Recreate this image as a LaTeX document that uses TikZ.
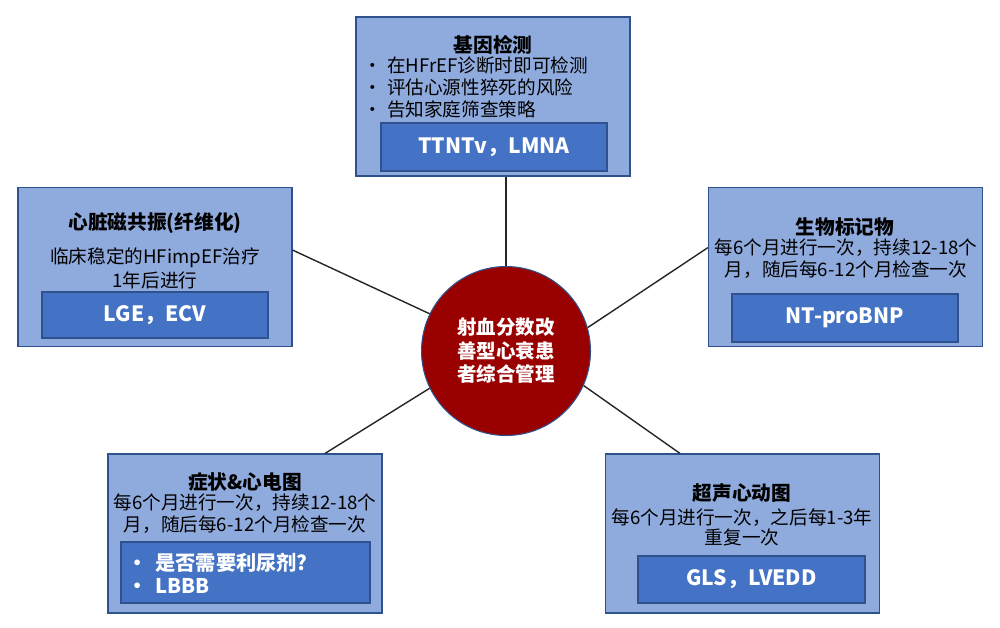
\documentclass[tikz,border=0pt]{standalone}
\usepackage{fontspec}
\setmainfont{Noto Sans CJK SC}
\usetikzlibrary{positioning}
\definecolor{panelfill}{RGB}{143,170,220}
\definecolor{panelrim}{RGB}{47,82,143}
\definecolor{tagfill}{RGB}{68,114,196}
\definecolor{hubred}{RGB}{153,0,0}
\newcommand{\bul}{\makebox[13.5pt][l]{•}}

\begin{document}
\begin{tikzpicture}[x=0.02cm,y=-0.02cm,
    panel/.style={draw=panelrim,line width=0.8pt,fill=panelfill,minimum width=5.48cm,minimum height=3.18cm,inner sep=0},
    tag/.style={draw=panelrim,line width=0.8pt,fill=tagfill,minimum width=4.52cm,minimum height=0.96cm,inner sep=0,
      text=white,font=\fontsize{12}{14}\selectfont\bfseries},
    head/.style={inner sep=0,font=\fontsize{11.2}{13}\selectfont\bfseries},
    body/.style={inner sep=0,align=center,font=\fontsize{10.6}{12.5}\selectfont},
    hub/.style={circle,draw=panelrim,line width=0.6pt,fill=hubred,minimum size=3.38cm,inner sep=0,align=center,
      text=white,font=\fontsize{11.1}{13.4}\selectfont\bfseries},
    link/.style={draw=black!85,line width=0.8pt}]
  \useasboundingbox (0,0) rectangle (1000,627);

  \node[panel] (gene) at (493,96.5) {};
  \node[head] (gene-head) at (493,45) {基因检测};
  \node[body,align=left,anchor=west] (gene-body) at (363,87)
    {\bul 在HFrEF诊断时即可检测\\\bul 评估心源性猝死的风险\\\bul 告知家庭筛查策略};
  \node[tag] (gene-tag) at (494,147) {TTNTv，LMNA};

  \node[panel] (cmr) at (155,267) {};
  \node[head] (cmr-head) at (155,223) {心脏磁共振(纤维化)};
  \node[body,font=\fontsize{10.6}{13.6}\selectfont] (cmr-body) at (155,268) {临床稳定的HFimpEF治疗\\1年后进行};
  \node[tag,minimum height=0.92cm] (cmr-tag) at (155,315) {LGE，ECV};

  \node[panel] (bio) at (845.5,267) {};
  \node[head] (bio-head) at (845,227) {生物标记物};
  \node[body] (bio-body) at (846,259) {每6个月进行一次，持续12-18个\\月，随后每6-12个月检查一次};
  \node[tag] (bio-tag) at (845,318) {NT-proBNP};

  \node[panel] (ecg) at (245,533.5) {};
  \node[head] (ecg-head) at (245,482) {症状\&心电图};
  \node[body] (ecg-body) at (245,514) {每6个月进行一次，持续12-18个\\月，随后每6-12个月检查一次};
  \node[tag,minimum width=4.98cm,minimum height=1.22cm] (ecg-tag) at (245.5,572.5) {};
  \node[inner sep=0,align=left,anchor=west,text=white,font=\fontsize{11.5}{13}\selectfont\bfseries] (ecg-list) at (127,573.5)
    {\makebox[16pt][l]{•}是否需要利尿剂?\\\makebox[16pt][l]{•}LBBB};

  \node[panel] (echo) at (742.5,533.5) {};
  \node[head] (echo-head) at (742,493) {超声心动图};
  \node[body,font=\fontsize{10.6}{11.4}\selectfont] (echo-body) at (742,527) {每6个月进行一次，之后每1-3年\\重复一次};
  \node[tag,minimum width=4.54cm,minimum height=0.94cm] (echo-tag) at (751.5,579.5) {GLS，LVEDD};

  \node[hub] (hub) at (506,351) {射血分数改\\善型心衰患\\者综合管理};

  \draw[link] (hub.north) -- (hub.north |- gene.south);
  \draw[link] (hub.154.4) -- (cmr.7.9);
  \draw[link] (hub.16.5) -- (bio.172.5);
  \draw[link] (hub.206.3) -- (ecg.45.5);
  \draw[link] (hub.-24.2) -- (echo.128.6);
\end{tikzpicture}
\end{document}
